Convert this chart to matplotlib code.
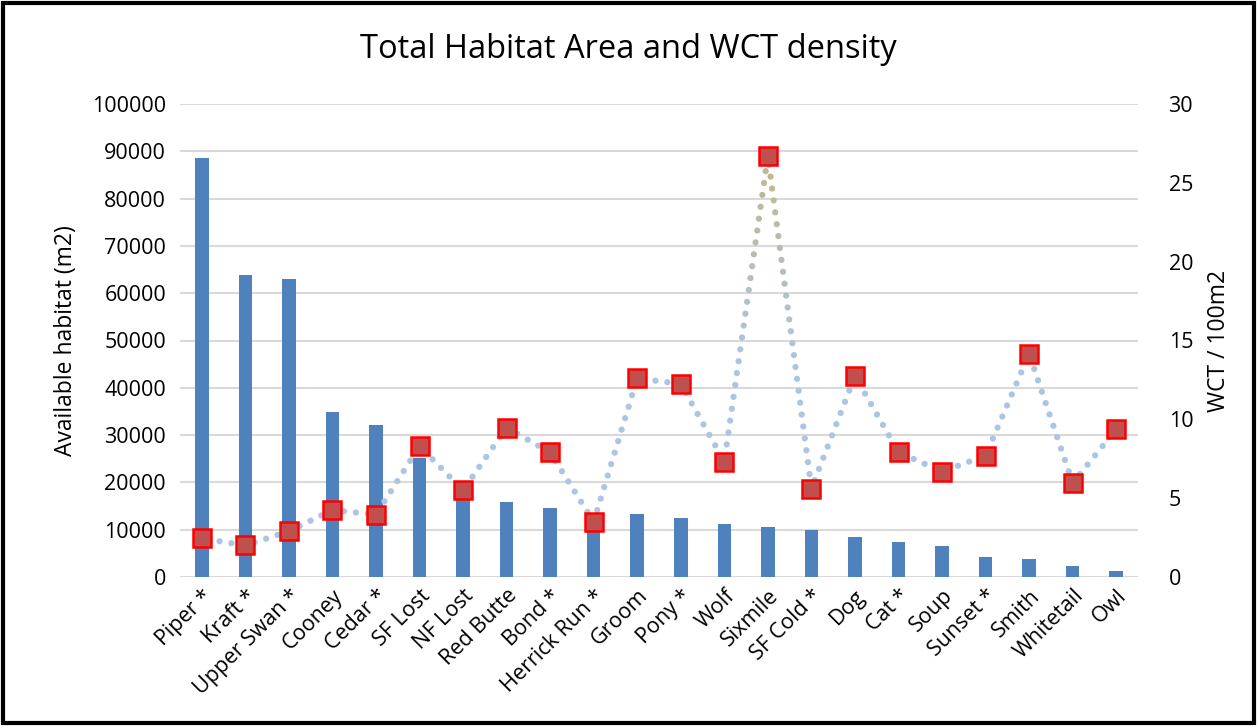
import matplotlib.pyplot as plt
import numpy as np
from matplotlib.patches import Rectangle

plt.rcParams['font.family'] = ['Open Sans', 'DejaVu Sans']

streams = ['Piper *', 'Kraft *', 'Upper Swan *', 'Cooney', 'Cedar *', 'SF Lost', 'NF Lost',
           'Red Butte', 'Bond *', 'Herrick Run *', 'Groom', 'Pony *', 'Wolf', 'Sixmile',
           'SF Cold *', 'Dog', 'Cat *', 'Soup', 'Sunset *', 'Smith', 'Whitetail', 'Owl']
habitat = [88500, 63800, 62900, 34900, 32200, 25100, 19500, 15800, 14650, 13400, 13250,
           12550, 11150, 10500, 9950, 8450, 7400, 6650, 4250, 3900, 2350, 1300]
density = [2.45, 2.0, 2.9, 4.25, 3.95, 8.3, 5.5, 9.47, 7.9, 3.5, 12.6, 12.25, 7.32, 26.7,
           5.6, 12.75, 7.92, 6.68, 7.7, 14.15, 5.96, 9.37]

W, H, DPI = 1257, 726, 100
fig = plt.figure(figsize=(W / DPI, H / DPI), dpi=DPI)
ax = fig.add_axes([180 / W, 1 - 577 / H, (1138 - 180) / W, (577 - 104) / H])
ax2 = ax.twinx()

x = np.arange(len(streams))
ax.bar(x, habitat, width=0.31, color='#4F81BD', zorder=2)
ax.set_xlim(-0.5, len(streams) - 0.5)
ax.set_ylim(0, 100000)
ax.set_yticks(np.arange(0, 100001, 10000))
ax.yaxis.grid(True, color='#D9D9D9', lw=1.5, zorder=0)
ax.set_axisbelow(True)
for s in ax.spines.values():
    s.set_visible(False)
for s in ax2.spines.values():
    s.set_visible(False)
ax.tick_params(axis='both', length=0, labelsize=15.5, pad=10)
ax.set_xticks(x)
ax.set_xticklabels(streams, rotation=45, ha='right', rotation_mode='anchor')
ax.tick_params(axis='x', pad=6)
ax.set_ylabel('Available habitat (m2)', fontsize=16.5, labelpad=10)

ax2.set_ylim(0, 30)
ax2.set_yticks(np.arange(0, 31, 5))
ax2.tick_params(axis='y', length=0, labelsize=15.5, pad=22)
ax2.set_ylabel('WCT / 100m2', fontsize=16.5, labelpad=10)

# dotted connector drawn as round dots spaced evenly in screen space,
# shading from light blue to khaki as density climbs
pts = ax2.transData.transform(np.column_stack([x, density]))
seg = np.diff(pts, axis=0)
seglen = np.hypot(seg[:, 0], seg[:, 1])
cum = np.concatenate([[0], np.cumsum(seglen)])
step = 12.0
d = np.arange(step / 2, cum[-1], step)
idx = np.clip(np.searchsorted(cum, d, side='right') - 1, 0, len(seg) - 1)
frac = (d - cum[idx]) / seglen[idx]
dots = pts[idx] + seg[idx] * frac[:, None]
dots_data = ax2.transData.inverted().transform(dots)
blue = np.array([172, 197, 226]) / 255
khaki = np.array([192, 184, 140]) / 255
t = np.clip((dots_data[:, 1] - 13) / (26.7 - 13), 0, 1)[:, None]
cols = blue * (1 - t) + khaki * t
ax2.scatter(dots_data[:, 0], dots_data[:, 1], s=20, c=cols, linewidths=0, zorder=3)

ax2.plot(x, density, ls='none', marker='s', markersize=12.5, markerfacecolor='#C0504D',
         markeredgecolor='#FF0000', markeredgewidth=1.8, zorder=4)

fig.text(0.5, 1 - 50 / H, 'Total Habitat Area and WCT density', ha='center', va='center',
         fontsize=23.5)
fig.patches.append(Rectangle((3 / W, 3 / H), 1 - 6 / W, 1 - 6 / H, transform=fig.transFigure,
                             fill=False, edgecolor='black', lw=3))

fig.savefig('out.png', dpi=DPI)
